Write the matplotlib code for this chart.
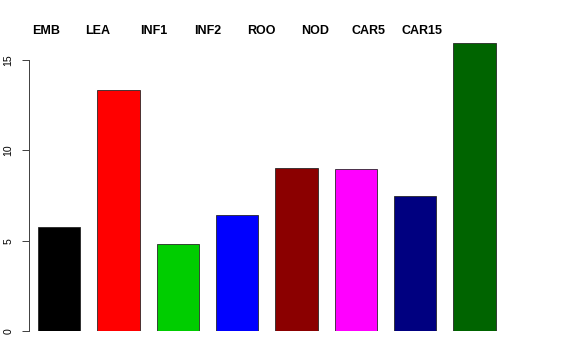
import matplotlib
matplotlib.use("Agg")
import matplotlib.pyplot as plt

categories = ["EMB", "LEA", "INF1", "INF2", "ROO", "NOD", "CAR5", "CAR15"]
values = [5.74, 13.34, 4.83, 6.40, 9.00, 8.95, 7.49, 15.92]
colors = ["#000000", "#FF0000", "#00CD00", "#0000FF", "#8B0000", "#FF00FF", "#000080", "#006400"]
yticks = [0, 5, 10, 15]

# layout (pixel centres of the top labels)
label_px = [46.5, 97.8, 153.3, 207.7, 261.7, 315.0, 368.8, 422.5]

W, H = 576, 360
unit = 59.35
fig = plt.figure(figsize=(W / 72, H / 72), dpi=72)
ax = fig.add_axes([29.35 / W, 29 / H, 8.3 * unit / W, 289.1 / H])

xpos = [i + 0.5 for i in range(len(values))]
ax.bar(xpos, values, width=0.712, color=colors, edgecolor="#222222", linewidth=0.8)
ax.set_xlim(0, 8.3)
ax.set_ylim(0, 16)

for s in ["top", "right", "bottom"]:
    ax.spines[s].set_visible(False)
ax.spines["left"].set_bounds(0, 15)
ax.spines["left"].set_color("#444444")
ax.spines["left"].set_linewidth(1.0)
ax.set_xticks([])
ax.set_yticks(yticks)
ax.set_yticklabels([str(t) for t in yticks], rotation=90, va="center",
                   family="Liberation Sans", fontsize=10.5)
ax.tick_params(axis="y", direction="out", length=7, width=1.0, color="#444444", pad=9)

for name, px in zip(categories, label_px):
    fig.text(px / W, 1 - 34 / H, name, ha="center", va="baseline",
             fontweight="bold", family="Liberation Sans", fontsize=12.5)

fig.savefig("out.png", dpi=72)
